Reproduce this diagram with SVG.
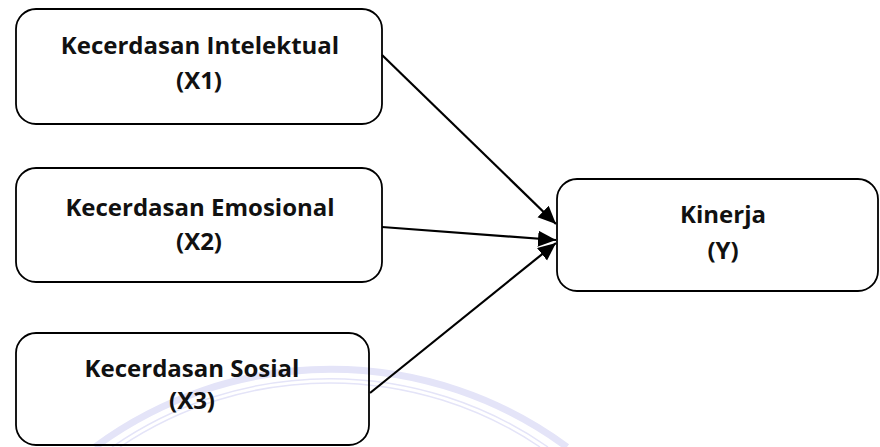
<svg xmlns="http://www.w3.org/2000/svg" width="880" height="447" viewBox="0 0 880 447">
  <style>
    .box { fill: none; stroke: #000000; stroke-width: 1.8; }
    .lbl { font-family: "Open Sans", "Noto Sans", "Liberation Sans", sans-serif; font-weight: bold; font-size: 24px; fill: #111111; text-anchor: middle; }
    .edge { stroke: #000000; stroke-width: 2.2; fill: none; marker-end: url(#arrow); }
    .wm { fill: none; stroke: #e4e4f8; }
  </style>
  <defs>
    <marker id="arrow" markerUnits="userSpaceOnUse" markerWidth="20" markerHeight="18" refX="18" refY="8" orient="auto">
      <path d="M0,0 L18,8 L0,16 Z" fill="#000000"/>
    </marker>
  </defs>
  <rect width="880" height="447" fill="#ffffff"/>
  <g id="watermark">
    <path class="wm" stroke-width="7" d="M 95 447 A 397 397 0 0 1 567 447"/>
    <path class="wm" stroke-width="1.5" d="M 112 447 A 382 382 0 0 1 548 447"/>
    <path class="wm" stroke-width="1.5" d="M 120 447 A 376 376 0 0 1 540 447"/>
  </g>
  <g id="node-x1">
    <rect class="box" x="16" y="9" width="366" height="115" rx="20" ry="20"/>
    <text class="lbl" x="200" y="54">Kecerdasan Intelektual</text>
    <text class="lbl" x="199" y="89">(X1)</text>
  </g>
  <g id="node-x2">
    <rect class="box" x="16" y="168" width="366" height="114" rx="20" ry="20"/>
    <text class="lbl" x="200" y="216">Kecerdasan Emosional</text>
    <text class="lbl" x="199" y="250">(X2)</text>
  </g>
  <g id="node-x3">
    <rect class="box" x="16" y="333" width="353" height="112" rx="20" ry="20"/>
    <text class="lbl" x="192" y="377">Kecerdasan Sosial</text>
    <text class="lbl" x="192" y="409">(X3)</text>
  </g>
  <g id="node-y">
    <rect class="box" x="557" y="179" width="321" height="112" rx="20" ry="20"/>
    <text class="lbl" x="723" y="223">Kinerja</text>
    <text class="lbl" x="723" y="259">(Y)</text>
  </g>
  <g id="connectors">
    <line class="edge" x1="382" y1="55" x2="556" y2="224"/>
    <line class="edge" x1="382" y1="227" x2="556" y2="240"/>
    <line class="edge" x1="370" y1="393" x2="556" y2="243"/>
  </g>
</svg>
